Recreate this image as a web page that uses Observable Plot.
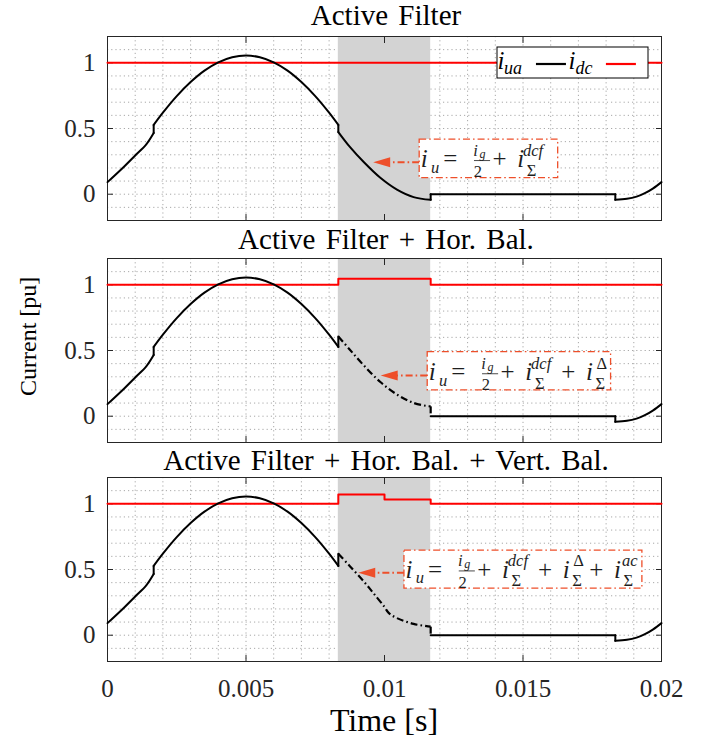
<!DOCTYPE html>
<html>
<head>
<meta charset="utf-8">
<script src="https://cdn.jsdelivr.net/npm/d3@7"></script>
<script src="https://cdn.jsdelivr.net/npm/@observablehq/plot@0.6"></script>
<style>
  body { margin: 0; background: #fff; }
  #fig { position: relative; width: 709px; height: 746px; overflow: hidden; background: #fff;
         font-family: "Liberation Serif", serif; color: #000; }
  .panel { position: absolute; left: 0; }
  .lbl { position: absolute; white-space: nowrap; line-height: 1; z-index: 2; }
</style>
</head>
<body>
<div id="fig"></div>
<script>
// ---------------- data (time in s, current in pu) ----------------
const xTicks = [0, 0.005, 0.01, 0.015, 0.02];
const xTickLabels = ["0", "0.005", "0.01", "0.015", "0.02"];
const yTicks = [0, 0.5, 1];
const yTickLabels = ["0", "0.5", "1"];
const titles = ["Active Filter", "Active Filter + Hor. Bal.", "Active Filter + Hor. Bal. + Vert. Bal."];
const shade = [0.008333, 0.011667];

// i_ua common to all panels outside the shaded interval
const tRise = [0, 0.0005, 0.001, 0.0014, 0.001667];
const iRise = [0.092, 0.19, 0.295, 0.38, 0.466];
const tArc = [0.001667, 0.002, 0.0025, 0.003, 0.0035, 0.004, 0.0045, 0.005, 0.0055, 0.006, 0.0065, 0.007, 0.0075, 0.008, 0.008333];
const iArc = [0.527, 0.62, 0.746, 0.853, 0.94, 1.003, 1.042, 1.055, 1.042, 1.003, 0.94, 0.853, 0.746, 0.62, 0.527];
const tFlat = [0.011667, 0.018333];
const iFlat = [0, 0];
const tTail = [0.018333, 0.01875, 0.0191, 0.0194, 0.0197, 0.02];
const iTail = [-0.043, -0.035, -0.018, 0.008, 0.045, 0.092];

// i_ua inside the shaded interval, per panel
const tShadeAF = [0.008333, 0.00875, 0.00925, 0.00985, 0.01045, 0.01105, 0.011667];
const iShadeAF = [0.473, 0.36, 0.245, 0.125, 0.035, -0.022, -0.043];
const tShadeHB = [0.008333, 0.00875, 0.00925, 0.00985, 0.01045, 0.01105, 0.0116, 0.011667];
const iShadeHB = [0.607, 0.506, 0.387, 0.26, 0.165, 0.101, 0.076, 0.075];
const tShadeVB = [0.008333, 0.00875, 0.00925, 0.0096, 0.01, 0.01015, 0.01045, 0.01105, 0.011667];
const iShadeVB = [0.62, 0.525, 0.41, 0.32, 0.215, 0.17, 0.13, 0.086, 0.065];

// i_dc per panel
const tDcAF = [0, 0.02];
const iDcAF = [1, 1];
const tDcHB = [0, 0.008333, 0.008333, 0.011667, 0.011667, 0.02];
const iDcHB = [1, 1, 1.046, 1.046, 1, 1];
const tDcVB = [0, 0.008333, 0.008333, 0.01, 0.01, 0.011667, 0.011667, 0.02];
const iDcVB = [1, 1, 1.07, 1.07, 1.033, 1.033, 1, 1];

// ---------------- annotations (data coordinates) ----------------
const fAF = [{s: "i", sub: "u"}, {op: "="}, {frac: true}, {op: "+"}, {s: "i", sup: "dcf", sub: "Σ"}];
const fHB = [...fAF, {op: "+"}, {s: "i", sup: "Δ", supUp: true, sub: "Σ"}];
const fVB = [...fHB, {op: "+"}, {s: "i", sup: "ac", sub: "Σ"}];
const notes = [
  {x1: 0.01127, x2: 0.01627, y1: 0.122, y2: 0.416, ya: 0.239, tip: 0.00961, parts: fAF},
  {x1: 0.01156, x2: 0.01818, y1: 0.197, y2: 0.488, ya: 0.306, tip: 0.00988, parts: fHB},
  {x1: 0.01072, x2: 0.01931, y1: 0.354, y2: 0.644, ya: 0.472, tip: 0.00907, parts: fVB}
];
const shadeSets = [[tShadeAF, iShadeAF], [tShadeHB, iShadeHB], [tShadeVB, iShadeVB]];
const dcSets = [[tDcAF, iDcAF], [tDcHB, iDcHB], [tDcVB, iDcVB]];

// ---------------- helpers ----------------
const rows = (ts, vs, id) => ts.map((t, i) => ({t, v: vs[i], id}));
const jump = (ta, va, tb, vb, id) => [{t: ta.at(-1), v: va.at(-1), id}, {t: tb[0], v: vb[0], id}];

const ORANGE = "#ee4f2a";
const DASHDOT = "7,3,1.6,3";
const FONT = "Liberation Serif";
const fig = document.getElementById("fig");
const panelTops = [30, 252, 471];
const titleBase = [25, 249, 470];

function measure(svgSel, s, size, italic) {
  const t = svgSel.append("text").attr("font-family", FONT).attr("font-size", size)
    .attr("font-style", italic ? "italic" : "normal").text(s);
  const w = t.node().getComputedTextLength();
  t.remove();
  return w;
}

// lays a formula out as one <text> with positioned <tspan>s
function drawFormula(svgSel, g, x0, axisY, parts, fs) {
  const base = axisY + 0.26 * fs;
  const col = "#1e1e1e";
  const pieces = [], bars = [];
  const put = (s, x, y, size, it) => { pieces.push({s, x, y, size, it}); return measure(svgSel, s, size, it); };
  let x = x0;
  for (const p of parts) {
    if (p.op) {
      x += 0.28 * fs;
      x += put(p.op, x, base, fs, false) + 0.28 * fs;
    } else if (p.frac) {
      x += 0.1 * fs;
      const s = 0.66 * fs;
      const wi = measure(svgSel, "i", s, true), wg = measure(svgSel, "g", 0.48 * fs, true), w2 = measure(svgSel, "2", s, false);
      const numW = wi + 0.1 * fs + wg;
      const fw = Math.max(numW, w2) + 0.12 * fs;
      put("i", x + (fw - numW) / 2, base - 0.47 * fs, s, true);
      put("g", x + (fw - numW) / 2 + wi + 0.1 * fs, base - 0.38 * fs, 0.48 * fs, true);
      put("2", x + (fw - w2) / 2, base + 0.4 * fs, s, false);
      bars.push([x, x + fw, base - 0.27 * fs]);
      x += fw + 0.1 * fs;
    } else {
      x += put(p.s, x, base, fs, true);
      let ww = 0;
      if (p.sup) ww = Math.max(ww, 0.22 * fs + put(p.sup, x + 0.22 * fs, base - 0.46 * fs, 0.66 * fs, !p.supUp));
      if (p.sub) ww = Math.max(ww, 0.16 * fs + put(p.sub, x + 0.16 * fs, base + (p.sup ? 0.33 : 0.22) * fs, 0.66 * fs, p.sub !== "Σ"));
      x += ww;
    }
  }
  const text = g.append("text").attr("font-family", FONT).attr("fill", col);
  for (const pc of pieces) {
    text.append("tspan").attr("x", pc.x).attr("y", pc.y).attr("font-size", pc.size)
      .attr("font-style", pc.it ? "italic" : "normal").text(pc.s);
  }
  for (const [a, b, y] of bars) {
    g.append("line").attr("x1", a).attr("x2", b).attr("y1", y).attr("y2", y)
      .attr("stroke", col).attr("stroke-width", 0.8);
  }
  return x;
}

function addLabel(text, x, baseline, fs, align) {
  const d = document.createElement("div");
  d.className = "lbl";
  d.textContent = text;
  d.style.fontSize = fs + "px";
  d.style.top = (baseline - 0.8375 * fs) + "px";
  if (align === "center") { d.style.left = (x - 320) + "px"; d.style.width = "640px"; d.style.textAlign = "center"; }
  else d.style.left = x + "px";
  fig.appendChild(d);
  return d;
}

// ---------------- panels ----------------
for (let k = 0; k < 3; k++) {
  const isLast = k === 2;
  const [tS, iS] = shadeSets[k];
  const [tD, iD] = dcSets[k];
  const before = [
    ...rows(tRise, iRise, "rise"),
    ...jump(tRise, iRise, tArc, iArc, "j1"),
    ...rows(tArc, iArc, "arc"),
    ...jump(tArc, iArc, tS, iS, "j2")
  ];
  const inside = [...rows(tS, iS, "shade"), ...jump(tS, iS, tFlat, iFlat, "j3")];
  const after = [
    ...rows(tFlat, iFlat, "flat"),
    ...jump(tFlat, iFlat, tTail, iTail, "j4"),
    ...rows(tTail, iTail, "tail")
  ];
  const dc = rows(tD, iD, "dc");
  const note = notes[k];
  const H = isLast ? 270 : 196;
  const lineOpts = {x: "t", y: "v", z: "id", curve: "catmull-rom", stroke: "#000", strokeWidth: 2, strokeLinecap: "round"};

  const plot = Plot.plot({
    width: 709, height: H,
    marginLeft: 107, marginRight: 48, marginTop: 6, marginBottom: isLast ? 80 : 6,
    x: {domain: [0, 0.02]},
    y: {domain: [-0.2, 1.2]},
    style: {fontFamily: FONT, fontSize: "25px", color: "#262626", background: "#fff"},
    marks: [
      Plot.gridX({ticks: 20, stroke: "#a8a8a8", strokeOpacity: 1, strokeWidth: 1, strokeDasharray: "1.2,3"}),
      Plot.gridY({ticks: 14, stroke: "#a8a8a8", strokeOpacity: 1, strokeWidth: 1, strokeDasharray: "1.2,3"}),
      Plot.rect([shade], {x1: d => d[0], x2: d => d[1], fill: "#d3d3d3"}),
      Plot.axisX(xTicks, {anchor: "top", tickSize: -6, stroke: "#262626", fill: "none", label: null}),
      Plot.axisX(xTicks, {anchor: "bottom", tickSize: -6, tickPadding: 24, stroke: "#262626",
        fill: isLast ? "#262626" : "none", label: null,
        tickFormat: d => xTickLabels[xTicks.indexOf(d)]}),
      Plot.axisY(yTicks, {anchor: "left", tickSize: -6, tickPadding: 18, stroke: "#262626", fill: "#262626", label: null,
        tickFormat: d => yTickLabels[yTicks.indexOf(d)]}),
      Plot.axisY(yTicks, {anchor: "right", tickSize: -6, stroke: "#262626", fill: "none", label: null}),
      Plot.frame({stroke: "#262626", strokeWidth: 1}),
      Plot.line(dc, {x: "t", y: "v", z: "id", stroke: "#ff0000", strokeWidth: 2}),
      Plot.line(before, lineOpts),
      Plot.line(after, lineOpts),
      k === 0
        ? Plot.line(inside, lineOpts)
        : Plot.line(inside, {...lineOpts, strokeWidth: 2.2, strokeLinecap: "butt", strokeDasharray: DASHDOT}),
      Plot.rect([note], {x1: "x1", x2: "x2", y1: "y1", y2: "y2", fill: "#fff", stroke: ORANGE, strokeWidth: 1.3, strokeDasharray: DASHDOT})
    ]
  });

  const wrap = document.createElement("div");
  wrap.className = "panel";
  wrap.style.top = panelTops[k] + "px";
  wrap.appendChild(plot);
  fig.appendChild(wrap);

  const sx = plot.scale("x"), sy = plot.scale("y");
  const svg = d3.select(plot);
  const g = svg.append("g");
  const bx = sx.apply(note.x1), ay = sy.apply(note.ya), tipX = sx.apply(note.tip);
  const headL = 17, headH = 5;
  g.append("line").attr("x1", bx).attr("x2", tipX + headL - 2).attr("y1", ay).attr("y2", ay)
    .attr("stroke", ORANGE).attr("stroke-width", 2).attr("stroke-dasharray", DASHDOT);
  g.append("path").attr("d", `M${tipX},${ay}L${tipX + headL},${ay - headH}L${tipX + headL},${ay + headH}Z`)
    .attr("fill", ORANGE);
  drawFormula(svg, g, bx + 5, ay - 1.5, note.parts, 25);

  if (k === 0) {
    // legend box in the top-right corner of the first panel
    const lg = svg.append("g");
    const L = 497, T = 47 - panelTops[0], W = 151, Hh = 31;
    lg.append("rect").attr("x", L).attr("y", T).attr("width", W).attr("height", Hh)
      .attr("fill", "#fff").attr("stroke", "#000").attr("stroke-width", 1);
    const base = T + 22;
    const items = [["ua", "#000"], ["dc", "#ff0000"]];
    let x = L + 4;
    for (const [sub, col] of items) {
      const wi = measure(svg, "i", 25, true);
      const ws = measure(svg, sub, 18, true);
      const t = lg.append("text").attr("font-family", FONT).attr("font-style", "italic").attr("fill", "#000");
      t.append("tspan").attr("x", x).attr("y", base).attr("font-size", 25).text("i");
      t.append("tspan").attr("x", x + wi + 5).attr("y", base + 5).attr("font-size", 18).text(sub);
      x += wi + 5 + ws + 5;
      lg.append("line").attr("x1", x).attr("x2", x + 30).attr("y1", T + 17).attr("y2", T + 17)
        .attr("stroke", col).attr("stroke-width", 2.2);
      x += 36;
    }
  }
  const tl = addLabel(titles[k], 386, titleBase[k], 29, "center");
  tl.style.wordSpacing = "3px";
}

addLabel("Time [s]", 384, 731, 32, "center");
const yl = addLabel("Current [pu]", 0, 0, 24);
yl.style.left = "0px"; yl.style.top = "0px";
yl.style.transformOrigin = "0 0";
yl.style.transform = "translate(16px, 396px) rotate(-90deg)";
</script>
</body>
</html>
